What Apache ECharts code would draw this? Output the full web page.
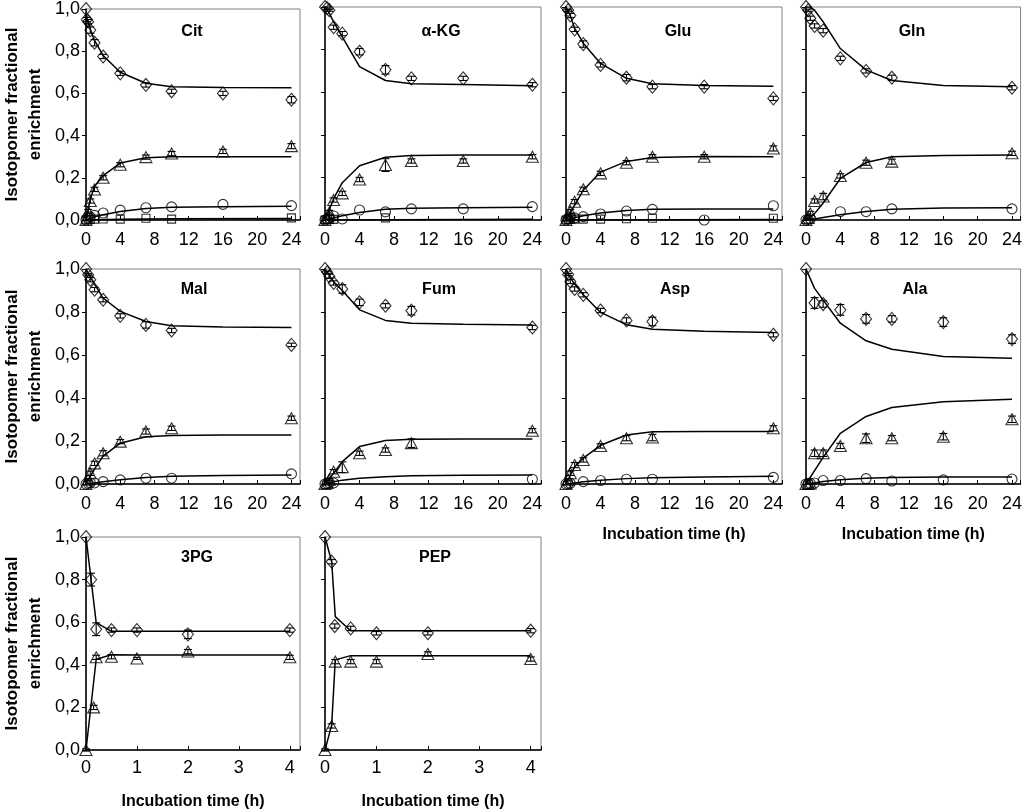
<!DOCTYPE html>
<html>
<head>
<meta charset="utf-8">
<script src="https://cdn.jsdelivr.net/npm/echarts@6/dist/echarts.min.js"></script>
<style>html,body{margin:0;padding:0;background:#fff}#c{width:1025px;height:811px}</style>
</head>
<body>
<div id="c"></div>
<script>
// ---------- DATA: [time (h), fraction, error] for measured points; [time, fraction] for fitted curves ----------
const citDia = [[0,1.0,0],[0.1,0.95,0.01],[0.25,0.94,0.01],[0.5,0.9,0.015],[1,0.84,0.015],[2,0.775,0.01],[4,0.695,0.01],[7,0.64,0.01],[10,0.61,0.01],[16,0.60,0.01],[24,0.57,0.015]];
const citDiaFit = [[0,0.97],[0.5,0.905],[1,0.85],[2,0.78],[4,0.70],[7,0.648],[10,0.632],[16,0.628],[24,0.627]];
const citTri = [[0,0,0],[0.25,0.04,0.01],[0.5,0.09,0.01],[1,0.145,0.01],[2,0.2,0.01],[4,0.262,0.01],[7,0.298,0.01],[10,0.315,0.01],[16,0.325,0.01],[24,0.35,0.012]];
const citTriFit = [[0,0],[0.5,0.1],[1,0.16],[2,0.21],[4,0.27],[7,0.295],[10,0.30],[16,0.30],[24,0.30]];
const citCir = [[0,0],[0.25,0.01],[0.5,0.015],[1,0.022],[2,0.033],[4,0.047],[7,0.058],[10,0.062],[16,0.074],[24,0.068]];
const citCirFit = [[0,0],[1,0.015],[2,0.025],[4,0.04],[7,0.055],[10,0.06],[16,0.063],[24,0.065]];
const citSq = [[0,0],[0.25,0.002],[0.5,0.003],[1,0.004],[2,0.005],[4,0.004],[7,0.008],[10,0.004],[24,0.01]];
const citSqFit = [[0,0],[4,0.004],[10,0.006],[24,0.007]];

const akgDia = [[0,1.0,0],[0.25,0.995,0.005],[0.5,0.985,0.005],[1,0.905,0.01],[2,0.875,0.01],[4,0.79,0.015],[7,0.705,0.02],[10,0.665,0.01],[16,0.665,0.01],[24,0.635,0.01]];
const akgDiaFit = [[0,1.0],[0.5,0.97],[1,0.93],[2,0.86],[4,0.72],[7,0.655],[10,0.64],[16,0.636],[24,0.63]];
const akgTri = [[0,0,0],[0.25,0.01,0],[0.5,0.035,0.01],[1,0.094,0.01],[2,0.125,0.01],[4,0.19,0.01],[7,0.258,0.03],[10,0.277,0.01],[16,0.277,0.01],[24,0.297,0.01]];
const akgTriFit = [[0,0],[0.5,0.05],[1,0.1],[2,0.175],[4,0.255],[7,0.295],[10,0.303],[16,0.305],[24,0.305]];
const akgCir = [[0,0],[0.25,0.005],[0.5,0.01],[1,0.019],[2,0.005],[4,0.047],[7,0.038],[10,0.052],[16,0.052],[24,0.063]];
const akgCirFit = [[0,0],[1,0.01],[2,0.02],[4,0.035],[7,0.05],[10,0.055],[16,0.058],[24,0.06]];
const akgSq = [[0,0],[0.25,0.002],[0.5,0.003],[1,0.003],[7,0.01]];
const akgSqFit = [[0,0],[24,0.003]];

const gluDia = [[0,1.0,0],[0.25,0.985,0.005],[0.5,0.96,0.01],[1,0.895,0.01],[2,0.826,0.015],[4,0.728,0.01],[7,0.668,0.015],[10,0.626,0.01],[16,0.626,0.01],[24,0.571,0.01]];
const gluDiaFit = [[0,1.0],[0.5,0.96],[1,0.9],[2,0.83],[4,0.735],[7,0.665],[10,0.64],[16,0.632],[24,0.628]];
const gluTri = [[0,0,0],[0.25,0.02,0.005],[0.5,0.04,0.01],[1,0.086,0.01],[2,0.144,0.01],[4,0.219,0.01],[7,0.269,0.01],[10,0.297,0.01],[16,0.297,0.01],[24,0.336,0.012]];
const gluTriFit = [[0,0],[0.5,0.035],[1,0.07],[2,0.14],[4,0.225],[7,0.275],[10,0.293],[16,0.298],[24,0.297]];
const gluCir = [[0,0],[0.25,0.005],[0.5,0.013],[1,0.01],[2,0.016],[4,0.028],[7,0.042],[10,0.05],[16,0.0],[24,0.067]];
const gluCirFit = [[0,0],[1,0.01],[2,0.02],[4,0.033],[7,0.045],[10,0.05],[16,0.052],[24,0.052]];
const gluSq = [[0,0],[0.25,0.002],[0.5,0.003],[1,0.004],[2,0.004],[4,0.004],[7,0.006],[10,0.008],[24,0.008]];
const gluSqFit = [[0,0],[24,0.002]];

const glnDia = [[0,1.0,0],[0.25,0.985,0.005],[0.5,0.947,0.01],[1,0.911,0.01],[2,0.889,0.01],[4,0.759,0.01],[7,0.70,0.01],[10,0.668,0.012],[24,0.621,0.01]];
const glnDiaFit = [[0,1.0],[0.5,1.0],[1,0.985],[2,0.93],[4,0.805],[7,0.705],[10,0.655],[16,0.632],[24,0.626]];
const glnTri = [[0,0,0],[0.25,0.01,0.005],[0.5,0.031,0.01],[1,0.089,0.01],[2,0.11,0.015],[4,0.207,0.01],[7,0.269,0.012],[10,0.274,0.012],[24,0.313,0.01]];
const glnTriFit = [[0,0],[1,0.03],[2,0.08],[4,0.195],[7,0.27],[10,0.297],[16,0.303],[24,0.305]];
const glnCir = [[0,0],[0.25,0.003],[0.5,0.006],[4,0.039],[7,0.039],[10,0.052],[24,0.052]];
const glnCirFit = [[0,0],[1,0.005],[2,0.012],[4,0.025],[7,0.04],[10,0.05],[16,0.056],[24,0.058]];

const malDia = [[0,1.0,0],[0.25,0.973,0.005],[0.5,0.95,0.01],[1,0.904,0.01],[2,0.857,0.01],[4,0.782,0.01],[7,0.74,0.015],[10,0.714,0.01],[24,0.647,0.008]];
const malDiaFit = [[0,1.0],[0.5,0.965],[1,0.93],[2,0.865],[4,0.803],[7,0.756],[10,0.736],[16,0.73],[24,0.728]];
const malTri = [[0,0,0],[0.25,0.02,0.005],[0.5,0.05,0.01],[1,0.096,0.01],[2,0.143,0.012],[4,0.197,0.01],[7,0.244,0.012],[10,0.259,0.01],[24,0.306,0.01]];
const malTriFit = [[0,0],[0.5,0.035],[1,0.07],[2,0.13],[4,0.19],[7,0.22],[10,0.226],[16,0.228],[24,0.228]];
const malCir = [[0,0],[0.25,0.003],[0.5,0.005],[1,0.005],[2,0.011],[4,0.019],[7,0.027],[10,0.027],[24,0.047]];
const malCirFit = [[0,0],[1,0.005],[2,0.01],[4,0.02],[7,0.03],[10,0.036],[16,0.04],[24,0.042]];

const fumDia = [[0,1.0,0],[0.25,0.985,0.005],[0.5,0.966,0.01],[1,0.935,0.01],[2,0.907,0.02],[4,0.845,0.015],[7,0.829,0.01],[10,0.806,0.02],[24,0.728,0.01]];
const fumDiaFit = [[0,1.0],[0.5,0.97],[1,0.94],[2,0.9],[4,0.81],[7,0.761],[10,0.748],[16,0.743],[24,0.74]];
const fumTri = [[0,0,0],[0.25,0.005,0],[0.5,0.02,0.005],[1,0.057,0.01],[2,0.078,0.025],[4,0.143,0.01],[7,0.158,0.01],[10,0.19,0.02],[24,0.248,0.01]];
const fumTriFit = [[0,0],[1,0.05],[2,0.104],[4,0.174],[7,0.202],[10,0.208],[16,0.209],[24,0.209]];
const fumCir = [[0,0],[0.25,0.003],[0.5,0.005],[1,0.005],[24,0.022]];
const fumCirFit = [[0,0],[1,0.01],[2,0.018],[4,0.027],[7,0.034],[10,0.038],[16,0.041],[24,0.042]];

const aspDia = [[0,1.0,0],[0.25,0.974,0.005],[0.5,0.942,0.01],[1,0.907,0.01],[2,0.88,0.01],[4,0.807,0.01],[7,0.761,0.012],[10,0.756,0.02],[24,0.694,0.01]];
const aspDiaFit = [[0,1.0],[0.5,0.96],[1,0.93],[2,0.88],[4,0.798],[7,0.741],[10,0.72],[16,0.71],[24,0.705]];
const aspTri = [[0,0,0],[0.25,0.02,0.005],[0.5,0.05,0.01],[1,0.088,0.012],[2,0.112,0.01],[4,0.177,0.01],[7,0.213,0.012],[10,0.216,0.015],[24,0.259,0.012]];
const aspTriFit = [[0,0],[0.5,0.04],[1,0.08],[2,0.12],[4,0.18],[7,0.228],[10,0.243],[16,0.244],[24,0.244]];
const aspCir = [[0,0],[0.25,0.002],[0.5,0.003],[2,0.011],[4,0.016],[7,0.022],[10,0.022],[24,0.031]];
const aspCirFit = [[0,0],[1,0.005],[2,0.01],[4,0.017],[7,0.025],[10,0.029],[16,0.033],[24,0.036]];

const alaDia = [[0,1.0,0],[1,0.842,0.025],[2,0.837,0.015],[4,0.81,0.025],[7,0.768,0.02],[10,0.768,0.015],[16,0.753,0.02],[24,0.674,0.02]];
const alaDiaFit = [[0,1.0],[1,0.91],[2,0.855],[4,0.748],[7,0.666],[10,0.627],[16,0.593],[24,0.585]];
const alaTri = [[0,0,0],[0.25,0,0],[0.5,0.003,0],[1,0.143,0.015],[2,0.143,0.015],[4,0.177,0.012],[7,0.213,0.02],[10,0.213,0.012],[16,0.22,0.015],[24,0.301,0.015]];
const alaTriFit = [[0,0],[1,0.062],[2,0.124],[4,0.236],[7,0.314],[10,0.356],[16,0.383],[24,0.394]];
const alaCir = [[0,0],[0.25,0.002],[0.5,0.003],[1,0.005],[2,0.016],[4,0.016],[7,0.025],[10,0.014],[16,0.019],[24,0.023]];
const alaCirFit = [[0,0],[1,0.005],[2,0.012],[4,0.02],[7,0.027],[10,0.03],[16,0.032],[24,0.032]];

const pgDia = [[0,1.0,0],[0.1,0.80,0.03],[0.2,0.567,0.03],[0.5,0.563,0.01],[1,0.563,0.01],[2,0.543,0.02],[4,0.563,0.01]];
const pgDiaFit = [[0,1.0],[0.2,0.598],[0.5,0.557],[1,0.557],[2,0.557],[4,0.557]];
const pgTri = [[0,0,0.005],[0.15,0.2,0.01],[0.2,0.435,0.01],[0.5,0.438,0.01],[1,0.43,0.005],[2,0.462,0.01],[4,0.435,0.01]];
const pgTriFit = [[0,0],[0.2,0.426],[0.5,0.447],[1,0.446],[2,0.446],[4,0.446]];

const pepDia = [[0,1.0,0],[0.13,0.884,0.01],[0.19,0.582,0.01],[0.5,0.571,0.01],[1,0.548,0.008],[2,0.548,0.008],[4,0.56,0.01]];
const pepDiaFit = [[0,1.0],[0.13,0.884],[0.2,0.626],[0.5,0.56],[1,0.56],[2,0.56],[4,0.56]];
const pepTri = [[0,0,0.005],[0.13,0.113,0.01],[0.2,0.415,0.01],[0.5,0.415,0.01],[1,0.415,0.01],[2,0.451,0.01],[4,0.427,0.01]];
const pepTriFit = [[0,0],[0.13,0.117],[0.2,0.423],[0.5,0.443],[1,0.443],[2,0.443],[4,0.443]];

const titles = ['Cit','\u03B1-KG','Glu','Gln','Mal','Fum','Asp','Ala','3PG','PEP'];
const yTickLabels = ['0,0','0,2','0,4','0,6','0,8','1,0'];
const yName = 'Isotopomer fractional\nenrichment';
const xName = 'Incubation time (h)';

// ---------- LAYOUT ----------
const FONT = "'Liberation Sans Narrow','Arial Narrow','Liberation Sans',Arial,sans-serif";
const colLeft = [84, 325, 566, 806];
const rowTop = [7, 269, 537];
const rowH = [213, 215, 213];
const plotW = 216;
const titleX = [192, 441, 678, 912, 194, 439, 675, 915, 197, 435];
const titleDy = [25, 21, 21];

const panels = [
  {row:0,col:0,long:true, dia:citDia,diaFit:citDiaFit,tri:citTri,triFit:citTriFit,cir:citCir,cirFit:citCirFit,sq:citSq,sqFit:citSqFit},
  {row:0,col:1,long:true, dia:akgDia,diaFit:akgDiaFit,tri:akgTri,triFit:akgTriFit,cir:akgCir,cirFit:akgCirFit,sq:akgSq,sqFit:akgSqFit},
  {row:0,col:2,long:true, dia:gluDia,diaFit:gluDiaFit,tri:gluTri,triFit:gluTriFit,cir:gluCir,cirFit:gluCirFit,sq:gluSq,sqFit:gluSqFit},
  {row:0,col:3,long:true, dia:glnDia,diaFit:glnDiaFit,tri:glnTri,triFit:glnTriFit,cir:glnCir,cirFit:glnCirFit},
  {row:1,col:0,long:true, dia:malDia,diaFit:malDiaFit,tri:malTri,triFit:malTriFit,cir:malCir,cirFit:malCirFit},
  {row:1,col:1,long:true, dia:fumDia,diaFit:fumDiaFit,tri:fumTri,triFit:fumTriFit,cir:fumCir,cirFit:fumCirFit},
  {row:1,col:2,long:true,xname:true, dia:aspDia,diaFit:aspDiaFit,tri:aspTri,triFit:aspTriFit,cir:aspCir,cirFit:aspCirFit},
  {row:1,col:3,long:true,xname:true, dia:alaDia,diaFit:alaDiaFit,tri:alaTri,triFit:alaTriFit,cir:alaCir,cirFit:alaCirFit},
  {row:2,col:0,long:false,xname:true, dia:pgDia,diaFit:pgDiaFit,tri:pgTri,triFit:pgTriFit},
  {row:2,col:1,long:false,xname:true, dia:pepDia,diaFit:pepDiaFit,tri:pepTri,triFit:pepTriFit}
];

const grids = [], xAxes = [], yAxes = [], series = [], graphics = [];
const hollow = {color:'rgba(255,255,255,0)', borderColor:'#000', borderWidth:1.1};

function errSeries(i, data){
  return {
    type:'custom', xAxisIndex:i, yAxisIndex:i, z:4, silent:true,
    data: data.filter(d => d[2] > 0),
    renderItem: function(params, api){
      const x = api.value(0), y = api.value(1), e = api.value(2);
      const p1 = api.coord([x, y + e]), p2 = api.coord([x, y - e]);
      const st = {stroke:'#000', lineWidth:1.1};
      return {type:'group', children:[
        {type:'line', shape:{x1:p1[0],y1:p1[1],x2:p2[0],y2:p2[1]}, style:st},
        {type:'line', shape:{x1:p1[0]-4,y1:p1[1],x2:p1[0]+4,y2:p1[1]}, style:st},
        {type:'line', shape:{x1:p2[0]-4,y1:p2[1],x2:p2[0]+4,y2:p2[1]}, style:st}
      ]};
    }
  };
}
function fitSeries(i, data){
  return {type:'line', xAxisIndex:i, yAxisIndex:i, data:data, symbol:'none', silent:true, z:2,
          lineStyle:{color:'#000', width:1.5}};
}
function ptSeries(i, data, symbol, size){
  return {type:'scatter', xAxisIndex:i, yAxisIndex:i, data:data, symbol:symbol, symbolSize:size, z:3,
          itemStyle:hollow};
}

panels.forEach((p, i) => {
  const left = colLeft[p.col], top = rowTop[p.row], h = rowH[p.row];
  grids.push({left:left, top:top, width:plotW, height:h, show:true, borderColor:'#808080', borderWidth:1, backgroundColor:'transparent'});
  const xmax = p.long ? 25 : 4.2, xint = p.long ? 4 : 1;
  xAxes.push({
    gridIndex:i, type:'value', min:0, max:xmax, interval:xint,
    name: p.xname ? xName : '', nameLocation:'middle', nameGap: p.row === 2 ? 44 : 43,
    nameTextStyle:{fontFamily:FONT, fontSize:16, fontWeight:'bold', color:'#000'},
    axisLine:{show:true, onZero:false, lineStyle:{color:'#000', width:1.5}},
    axisTick:{show:true, inside:true, length:4, lineStyle:{color:'#000', width:1}},
    axisLabel:{fontFamily:FONT, fontSize:18, color:'#000', margin: p.row === 2 ? 9 : 11,
      formatter: v => (Math.abs(v / xint - Math.round(v / xint)) < 1e-9 ? String(v) : '')},
    splitLine:{show:false}
  });
  yAxes.push({
    gridIndex:i, type:'value', min:0, max:1, interval:0.2,
    name: p.col === 0 ? yName : '', nameLocation:'middle', nameGap:39, nameRotate:90,
    nameTextStyle:{fontFamily:FONT, fontSize:17, fontWeight:'bold', color:'#000', lineHeight:23},
    axisLine:{show:true, lineStyle:{color:'#000', width:1.5}},
    axisTick:{show:true, inside:false, length:4, lineStyle:{color:'#000', width:1}},
    axisLabel:{show: p.col === 0, fontFamily:FONT, fontSize:18, color:'#000', margin:6,
      formatter: v => yTickLabels[Math.round(v * 5)]},
    splitLine:{show:false}
  });
  graphics.push({type:'text', x:titleX[i], y:top + titleDy[p.row], silent:true,
    style:{text:titles[i], textAlign:'center', textVerticalAlign:'middle', fill:'#000',
      font:"bold 16px " + FONT}});
  ['diaFit','triFit','cirFit','sqFit'].forEach(k => { if (p[k]) series.push(fitSeries(i, p[k])); });
  if (p.dia) series.push(errSeries(i, p.dia));
  if (p.tri) series.push(errSeries(i, p.tri));
  if (p.dia) series.push(ptSeries(i, p.dia, 'diamond', [11, 13]));
  if (p.tri) series.push(ptSeries(i, p.tri, 'triangle', [12, 11]));
  if (p.cir) series.push(ptSeries(i, p.cir, 'circle', 10));
  if (p.sq) series.push(ptSeries(i, p.sq, 'rect', 8));
});

const chart = echarts.init(document.getElementById('c'), null, {renderer:'canvas'});
chart.setOption({
  animation:false,
  backgroundColor:'#fff',
  textStyle:{fontFamily:FONT},
  grid:grids, xAxis:xAxes, yAxis:yAxes, series:series, graphic:graphics
});
</script>
</body>
</html>
